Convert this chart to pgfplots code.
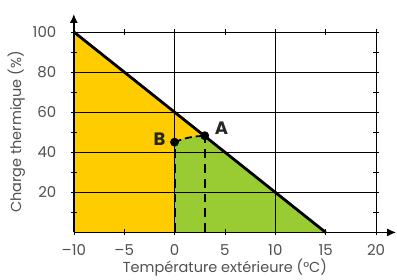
\documentclass[border=0pt]{standalone}
\usepackage{pgfplots}
\pgfplotsset{compat=1.18}
\usepackage{fontspec}
\setmainfont{Poppins}
\usetikzlibrary{arrows.meta}
\definecolor{cyellow}{RGB}{255,204,0}
\definecolor{cgreen}{RGB}{153,204,51}
\definecolor{ctext}{RGB}{80,80,80}
\begin{document}
\begin{tikzpicture}
\begin{axis}[
  set layers,
  at={(0,0)}, anchor=south west,
  scale only axis, width=303pt, height=201pt,
  xmin=-10, xmax=20, ymin=0, ymax=100,
  clip=false,
  axis line style={black, line width=0.6pt},
  xtick={-10,-5,0,5,10,15,20},
  xticklabels={\textendash10,\textendash5,0,5,10,15,20},
  ytick={10,20,30,40,50,60,70,80,90,100},
  yticklabels={,20,,40,,60,,80,,100},
  tick align=center,
  major tick length=6pt,
  tick style={black, line width=0.6pt},
  extra x ticks={0,10},
  extra x tick labels={},
  extra x tick style={grid=major, major tick length=0pt},
  extra y ticks={20,40,60,80},
  extra y tick labels={},
  extra y tick style={grid=major, major tick length=0pt},
  grid style={black, line width=0.6pt},
  ticklabel style={font=\fontsize{15}{15}\selectfont, text=ctext},
  xticklabel style={anchor=center, yshift=-15pt},
  yticklabel style={anchor=east, xshift=-11pt},
  xlabel={Température extérieure (°C)},
  ylabel={Charge thermique (\%)},
  label style={font=\fontsize{14.5}{15}\selectfont, text=ctext},
  xlabel style={at={(axis description cs:0.5,-0.176)}, anchor=center},
  ylabel style={at={(axis description cs:-0.19,0.5)}, anchor=center},
]
\addplot[on layer=axis background, draw=none, fill=cyellow] coordinates {(-10,100) (15,0)} \closedcycle;
\addplot[on layer=axis background, draw=none, fill=cgreen] coordinates {(0,45) (0.5,46.0) (1,46.8) (1.5,47.4) (2,47.8) (2.5,48.1) (3,48.2) (15,0)} \closedcycle;
\addplot[black, line width=2.8pt] coordinates {(-10,100) (15,0)};
\addplot[black, line width=1.8pt, dash pattern=on 9pt off 6pt] coordinates {(0.02,0) (0.02,45)};
\addplot[black, line width=1.8pt, dash pattern=on 9pt off 6pt] coordinates {(3,0) (3,48.2)};
\addplot[black, line width=1.8pt, dash pattern=on 7pt off 4pt, smooth] coordinates {(0,45) (1,46.8) (2,47.8) (3,48.2)};
\addplot[only marks, mark=*, mark size=4.2pt, black] coordinates {(0,45) (3,48.2)};
\node[font=\fontsize{18}{18}\selectfont\bfseries, text=black!85] at (axis cs:4.65,52.2) {A};
\node[font=\fontsize{18}{18}\selectfont\bfseries, text=black!85] at (axis cs:-1.49,46.5) {B};
\draw[black, line width=1.6pt, -{Latex[length=9pt,width=8pt]}] (axis cs:-10,0) -- (axis cs:22.0,0);
\draw[black, line width=1.6pt, -{Latex[length=9pt,width=8pt]}] (axis cs:-10,0) -- (axis cs:-10,109);
\end{axis}
\path[use as bounding box] (-74pt,-45pt) rectangle (323pt,233pt);
\end{tikzpicture}
\end{document}
